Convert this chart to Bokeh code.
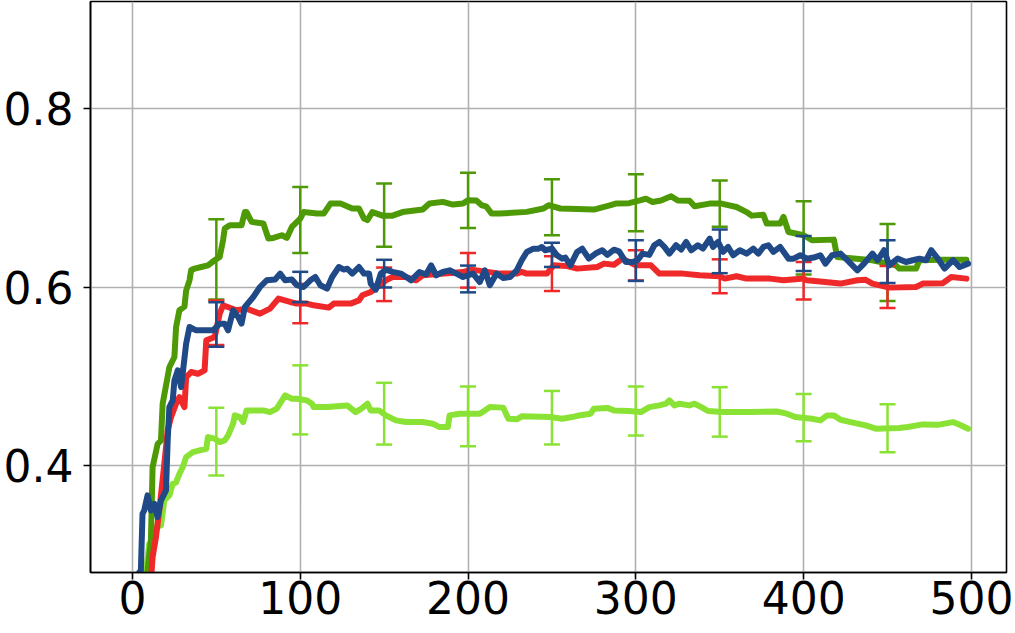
from bokeh.plotting import figure
from bokeh.models import Range1d, FixedTicker
from bokeh.embed import file_html
from bokeh.resources import INLINE

# ---------------- data ----------------
dg_x = [0, 9, 11, 12, 15, 17, 18, 22, 25, 26, 28, 31, 32, 34, 35, 37, 41, 45, 49, 52, 54, 55, 58, 65, 67, 68,
        71, 78, 81, 84, 89, 92, 95, 100, 102, 110, 114, 118, 124, 131, 135, 138, 140, 143, 149, 155, 161, 173,
        177, 185, 191, 197, 200, 205, 208, 211, 214, 219, 235, 245, 248, 255, 275, 285, 288, 296, 303, 306,
        310, 315, 321, 325, 332, 335, 344, 351, 360, 366, 369, 376, 378, 386, 388, 391, 400, 405, 418, 420,
        441, 455, 457, 467, 469, 481, 497]
dg_y = [0.22, 0.282, 0.316, 0.398, 0.424, 0.428, 0.469, 0.510, 0.5215, 0.555, 0.574, 0.578, 0.596, 0.6075,
        0.619, 0.6206, 0.6224, 0.6243, 0.630, 0.6337, 0.6524, 0.6655, 0.6692, 0.6692, 0.6841, 0.684, 0.673,
        0.6711, 0.6543, 0.655, 0.658, 0.655, 0.6673, 0.6767, 0.684, 0.6823, 0.6823, 0.6935, 0.6935, 0.688,
        0.688, 0.6767, 0.675, 0.684, 0.680, 0.680, 0.684, 0.6868, 0.6935, 0.6954, 0.6924, 0.6935, 0.6973,
        0.697, 0.6917, 0.690, 0.6823, 0.6823, 0.6842, 0.688, 0.6917, 0.688, 0.6868, 0.6917, 0.6935, 0.694,
        0.6973, 0.699, 0.6953, 0.697, 0.7017, 0.697, 0.6968, 0.6905, 0.6935, 0.6935, 0.6897, 0.684, 0.680,
        0.681, 0.6711, 0.6711, 0.6785, 0.6617, 0.658, 0.6524, 0.6531, 0.6337, 0.630, 0.6243, 0.6206, 0.6206,
        0.630, 0.6306, 0.6306]

red_x = [0, 11, 12, 14, 16, 19, 21, 23, 26, 28, 31, 32, 35, 39, 43, 44, 49, 52, 54, 62, 68, 76, 82, 87, 94,
         98, 104, 108, 117, 120, 130, 135, 137, 142, 146, 151, 155, 163, 169, 173, 197, 202, 219, 229, 232,
         235, 247, 251, 259, 265, 277, 281, 287, 292, 300, 309, 314, 328, 338, 350, 353, 360, 366, 380, 388,
         400, 402, 422, 432, 437, 441, 451, 467, 471, 483, 488, 497]
red_y = [0.2, 0.27, 0.297, 0.3196, 0.3495, 0.4019, 0.4393, 0.4542, 0.4692, 0.4766, 0.4654, 0.499, 0.5047,
         0.5028, 0.5065, 0.5402, 0.5439, 0.5701, 0.5795, 0.5739, 0.5757, 0.5701, 0.5757, 0.587, 0.5832,
         0.5814, 0.5814, 0.5795, 0.5769, 0.5814, 0.5814, 0.585, 0.5907, 0.5944, 0.600, 0.6075, 0.6112,
         0.6112, 0.6075, 0.6131, 0.6168, 0.6195, 0.615, 0.615, 0.617, 0.615, 0.615, 0.6243, 0.6234, 0.6206,
         0.6224, 0.6262, 0.625, 0.6318, 0.6243, 0.6243, 0.615, 0.615, 0.6131, 0.612, 0.6094, 0.612, 0.6094,
         0.6094, 0.6075, 0.6094, 0.6075, 0.6038, 0.6075, 0.608, 0.6038, 0.5993, 0.600, 0.6038, 0.6043,
         0.6112, 0.6094]

blue_x = [0, 4, 5, 6, 7, 9, 11, 13, 15, 17, 20, 21, 22, 24, 25, 27, 29, 32, 34, 38, 48, 52, 55, 57, 60, 63,
          65, 67, 72, 76, 80, 85, 88, 91, 95, 98, 102, 106, 109, 112, 116, 119, 123, 126, 128, 131, 135, 138,
          141, 142, 145, 148, 151, 155, 160, 166, 171, 175, 178, 181, 185, 189, 193, 197, 203, 207, 210, 213,
          217, 221, 225, 229, 232, 235, 239, 242, 244, 246, 250, 253, 256, 258, 261, 265, 268, 272, 276, 280,
          283, 287, 290, 294, 298, 301, 304, 308, 311, 314, 317, 320, 324, 327, 330, 333, 337, 340, 344, 346,
          349, 352, 355, 358, 362, 366, 370, 373, 376, 379, 382, 386, 391, 394, 398, 402, 406, 410, 413, 417,
          422, 426, 432, 436, 441, 444, 448, 451, 456, 461, 465, 469, 473, 476, 480, 484, 489, 493, 498]
blue_y = [0.25, 0.28, 0.281, 0.3458, 0.3495, 0.3664, 0.3495, 0.357, 0.342, 0.3607, 0.372, 0.428, 0.4654,
          0.4729, 0.4953, 0.5065, 0.4878, 0.5365, 0.5551, 0.5514, 0.5514, 0.5589, 0.5589, 0.5514, 0.5739,
          0.5664, 0.5589, 0.5776, 0.5888, 0.600, 0.6075, 0.6085, 0.615, 0.6075, 0.6085, 0.602, 0.600, 0.6075,
          0.6112, 0.602, 0.5982, 0.6112, 0.6224, 0.6195, 0.6205, 0.615, 0.6224, 0.615, 0.615, 0.6038, 0.597,
          0.615, 0.6195, 0.617, 0.615, 0.6075, 0.6168, 0.614, 0.6243, 0.6131, 0.6168, 0.6187, 0.615, 0.6112,
          0.615, 0.6056, 0.6187, 0.602, 0.615, 0.610, 0.6112, 0.6187, 0.630, 0.6393, 0.643, 0.643, 0.6448,
          0.6412, 0.643, 0.6356, 0.6318, 0.633, 0.6243, 0.6393, 0.643, 0.6318, 0.6375, 0.6412, 0.636, 0.6418,
          0.640, 0.628, 0.628, 0.630, 0.6374, 0.636, 0.6468, 0.6505, 0.645, 0.6374, 0.6468, 0.642, 0.6505,
          0.6412, 0.6468, 0.643, 0.6543, 0.6449, 0.6505, 0.6393, 0.6449, 0.6356, 0.6412, 0.6374, 0.643,
          0.6374, 0.6449, 0.6468, 0.6393, 0.6449, 0.6318, 0.6318, 0.6356, 0.6318, 0.633, 0.6356, 0.6262,
          0.6356, 0.6374, 0.630, 0.6187, 0.6262, 0.6374, 0.630, 0.6412, 0.6243, 0.6318, 0.628, 0.630, 0.6318,
          0.630, 0.6412, 0.6318, 0.6206, 0.630, 0.6224, 0.6262]

lg_x = [0, 8, 10, 13, 14, 17, 19, 22, 24, 26, 28, 30, 32, 36, 40, 44, 45, 49, 52, 55, 57, 60, 61, 64, 66, 68,
        78, 82, 86, 91, 95, 98, 104, 107, 108, 116, 128, 133, 136, 140, 142, 147, 151, 157, 163, 173, 179,
        183, 188, 189, 195, 202, 207, 210, 213, 221, 224, 229, 232, 249, 256, 262, 266, 273, 275, 283, 287,
        296, 303, 308, 314, 318, 320, 323, 326, 332, 335, 339, 343, 352, 368, 384, 390, 395, 405, 410, 414,
        418, 422, 428, 437, 443, 457, 462, 471, 480, 489, 493, 498]
lg_y = [0.2, 0.28, 0.3122, 0.3122, 0.3308, 0.3327, 0.3607, 0.3664, 0.3795, 0.381, 0.3907, 0.3981, 0.4093,
        0.415, 0.4168, 0.4187, 0.4318, 0.430, 0.4262, 0.428, 0.4337, 0.4468, 0.4561, 0.4542, 0.4486, 0.4617,
        0.4617, 0.4598, 0.4636, 0.4785, 0.4748, 0.4748, 0.4729, 0.4692, 0.4654, 0.4654, 0.4673, 0.4598,
        0.463, 0.4692, 0.4617, 0.4617, 0.4561, 0.4505, 0.4486, 0.4486, 0.4468, 0.443, 0.443, 0.4561, 0.458,
        0.458, 0.458, 0.4617, 0.4654, 0.4648, 0.4524, 0.4517, 0.455, 0.4542, 0.4524, 0.4542, 0.456, 0.458,
        0.4636, 0.4645, 0.4617, 0.461, 0.4598, 0.4654, 0.4673, 0.4692, 0.4729, 0.4673, 0.4692, 0.4673,
        0.4692, 0.4654, 0.461, 0.4598, 0.460, 0.4605, 0.458, 0.4542, 0.4524, 0.4505, 0.4561, 0.4561, 0.4512,
        0.4486, 0.4449, 0.4412, 0.442, 0.443, 0.446, 0.4455, 0.4486, 0.4455, 0.4412]

eb_x = [50, 100, 150, 200, 250, 300, 350, 400, 450]
dg_mean = [0.631, 0.675, 0.6805, 0.697, 0.6894, 0.6945, 0.6935, 0.655, 0.6275]
dg_err = [0.045, 0.037, 0.0355, 0.031, 0.0314, 0.032, 0.026, 0.041, 0.0432]
red_mean = [0.560, 0.5814, 0.603, 0.6187, 0.615, 0.6243, 0.612, 0.607, 0.600]
red_err = [0.025, 0.022, 0.0188, 0.0194, 0.0195, 0.017, 0.019, 0.021, 0.0236]
blue_mean = [0.558, 0.600, 0.615, 0.609, 0.636, 0.6296, 0.640, 0.6376, 0.6285]
blue_err = [0.025, 0.017, 0.0155, 0.015, 0.0135, 0.0228, 0.0245, 0.0196, 0.024]
lg_mean = [0.4266, 0.4735, 0.458, 0.455, 0.4535, 0.461, 0.460, 0.4535, 0.4417]
lg_err = [0.038, 0.0387, 0.0346, 0.0335, 0.030, 0.0275, 0.0277, 0.0265, 0.0268]

x_ticks = [0, 100, 200, 300, 400, 500]
y_ticks = [0.4, 0.6, 0.8]

# ---------------- figure ----------------
p = figure(width=1015, height=633, output_backend="svg", toolbar_location=None,
           x_range=Range1d(-25.0, 520.9), y_range=Range1d(0.28, 0.92),
           frame_width=916, frame_height=571,
           min_border_left=89, min_border_right=10, min_border_top=1, min_border_bottom=61,
           background_fill_color="white", border_fill_color="white")

p.outline_line_color = "black"
p.outline_line_width = 1.6
p.outline_line_alpha = 1.0

for ax in (p.xaxis[0], p.yaxis[0]):
    ax.axis_line_color = "black"
    ax.axis_line_width = 1.6
    ax.major_tick_line_color = "black"
    ax.major_tick_line_width = 1.6
    ax.major_tick_out = 7
    ax.major_tick_in = 0
    ax.minor_tick_line_color = None
    ax.major_label_text_font = "DejaVu Sans"
    ax.major_label_text_font_size = "44px"
    ax.major_label_text_color = "black"

p.xaxis.ticker = FixedTicker(ticks=x_ticks)
p.yaxis.ticker = FixedTicker(ticks=y_ticks)
p.xaxis.major_label_standoff = 1
p.yaxis.major_label_standoff = 10

p.xgrid.ticker = FixedTicker(ticks=x_ticks)
p.ygrid.ticker = FixedTicker(ticks=y_ticks)
p.grid.grid_line_color = "#b0b0b0"
p.grid.grid_line_width = 1.6

series = [
    (lg_x, lg_y, lg_mean, lg_err, "#8ae234"),
    (dg_x, dg_y, dg_mean, dg_err, "#4e9a06"),
    (red_x, red_y, red_mean, red_err, "#ef2929"),
    (blue_x, blue_y, blue_mean, blue_err, "#204a87"),
]

for xs, ys, m, e, c in series:
    p.line(xs, ys, line_color=c, line_width=6, line_join="round", line_cap="round")
    lo = [a - b for a, b in zip(m, e)]
    hi = [a + b for a, b in zip(m, e)]
    p.segment(x0=eb_x, y0=lo, x1=eb_x, y1=hi, line_color=c, line_width=2.5)
    p.scatter(x=eb_x, y=lo, marker="dash", size=16, line_color=c, line_width=2.5)
    p.scatter(x=eb_x, y=hi, marker="dash", size=16, line_color=c, line_width=2.5)

open("out.html", "w").write(file_html(p, INLINE))
